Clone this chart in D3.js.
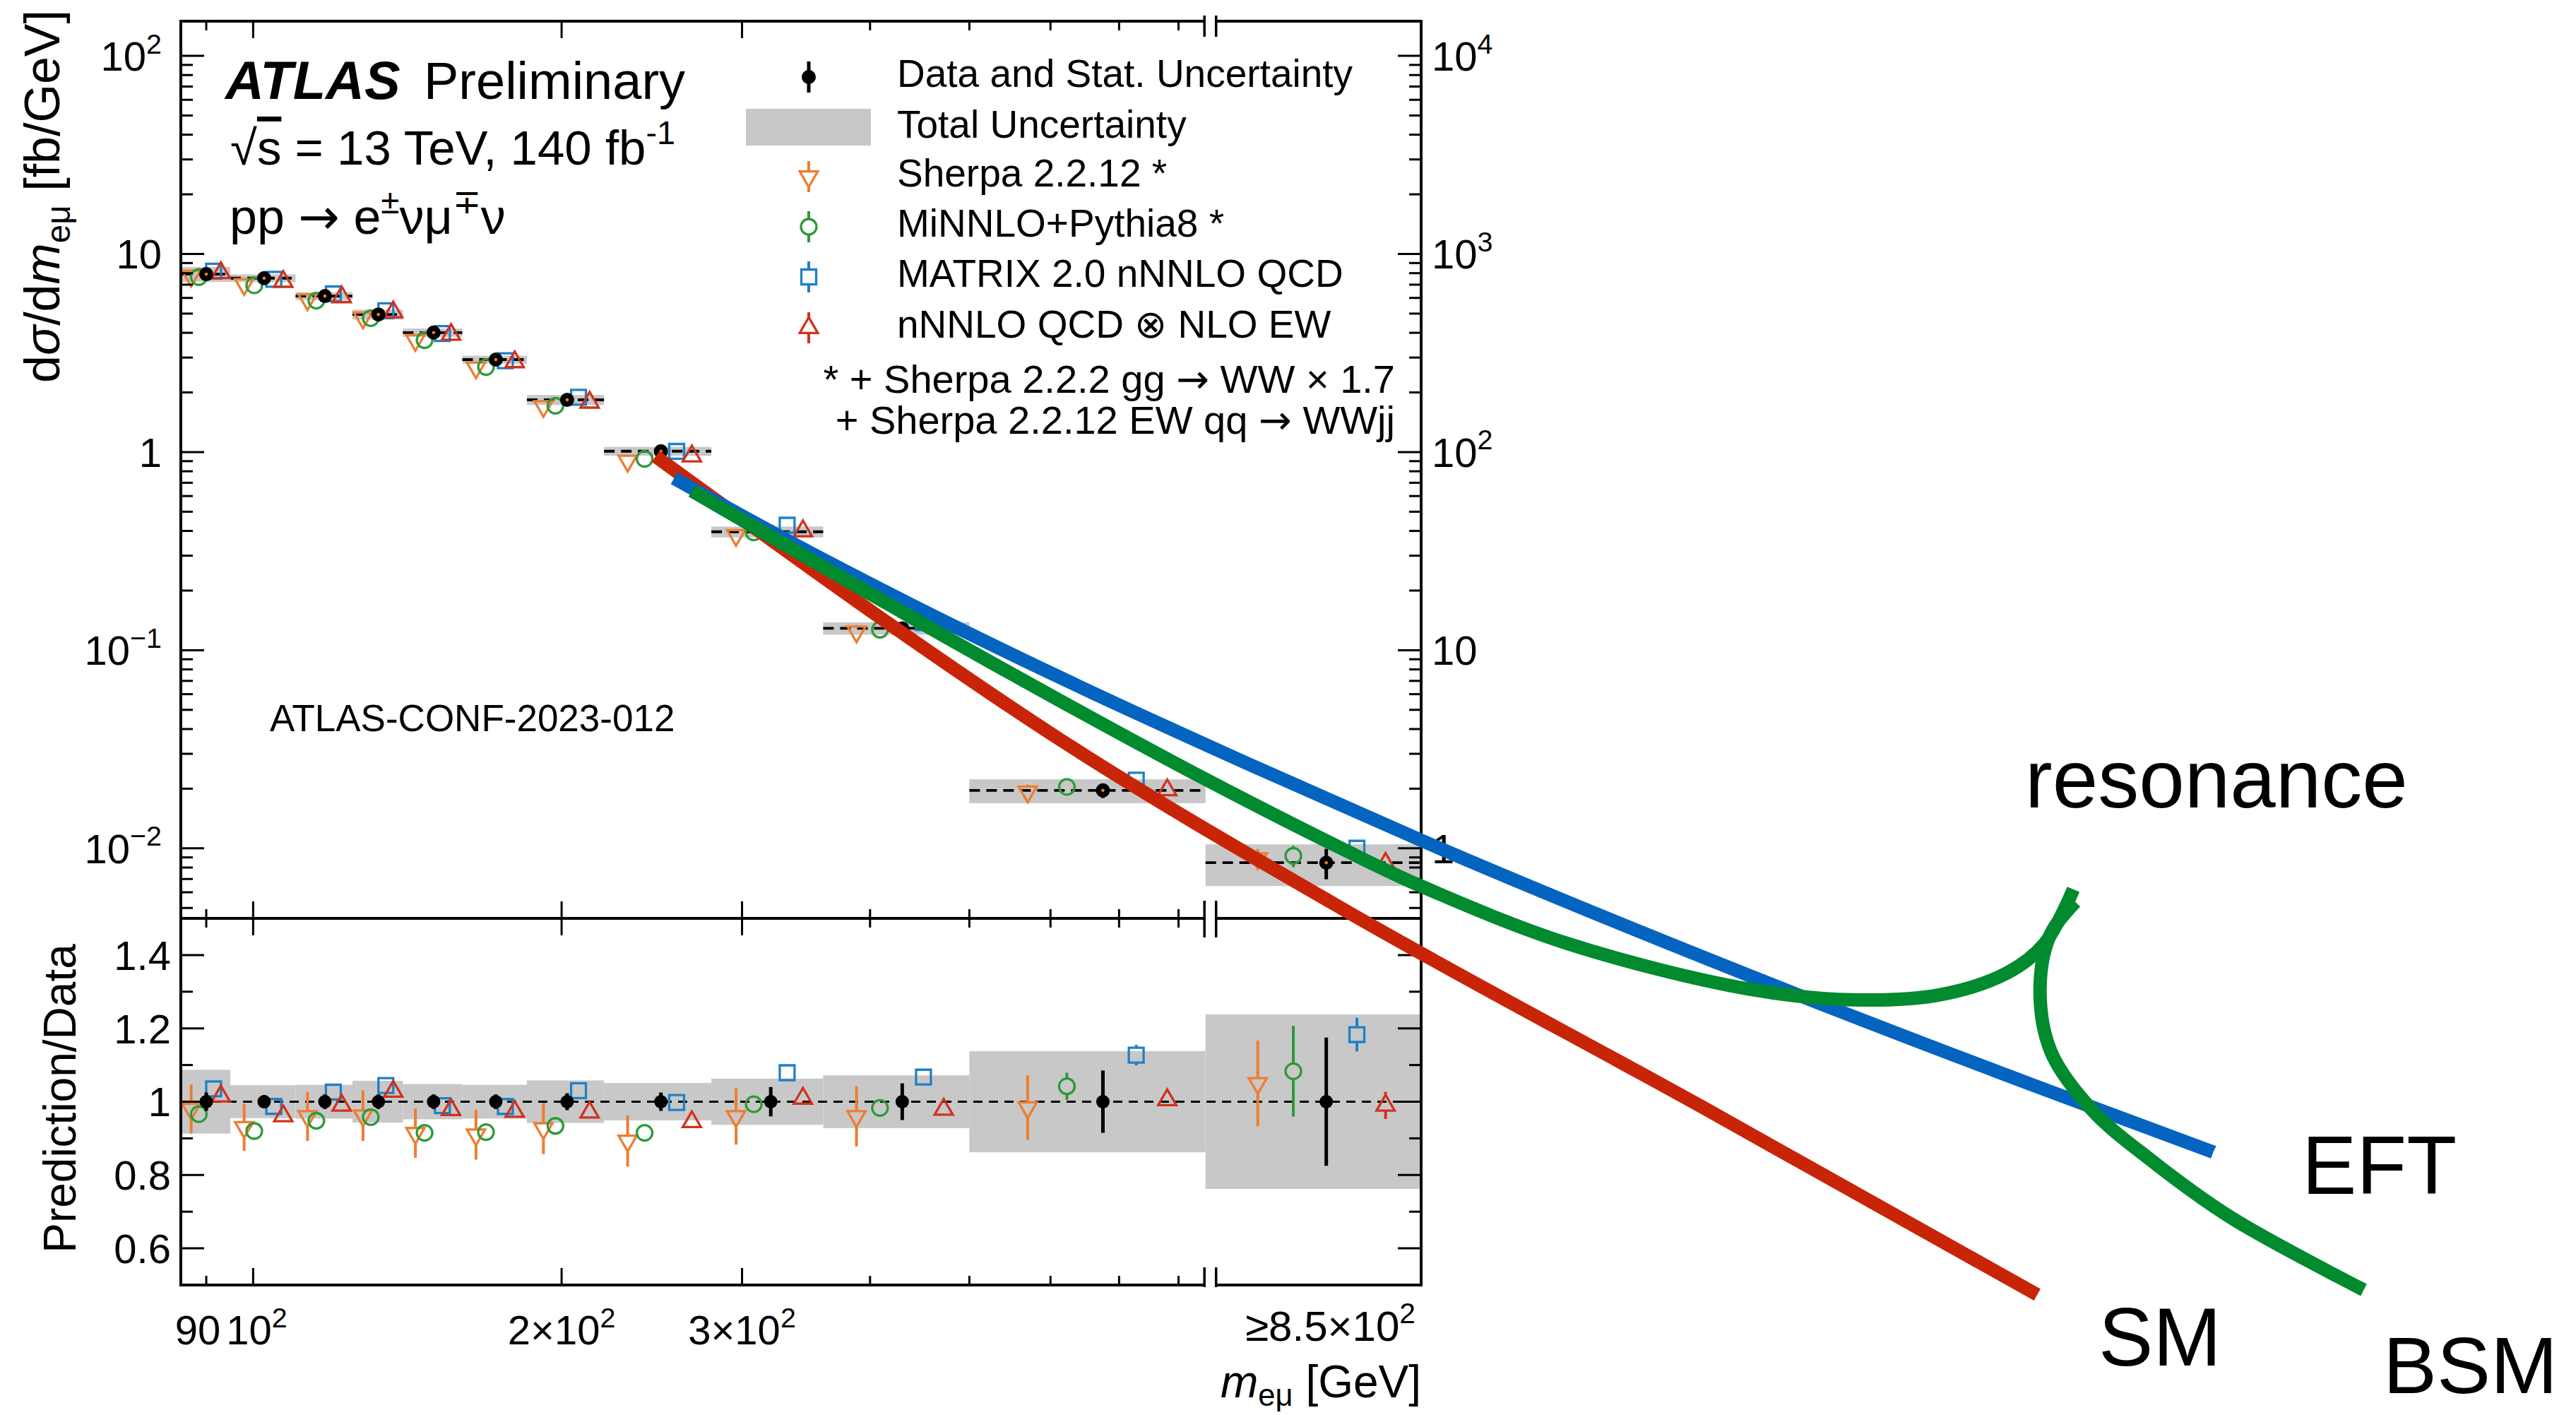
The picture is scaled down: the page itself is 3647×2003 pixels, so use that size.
<!DOCTYPE html>
<html><head><meta charset="utf-8">
<script src="https://cdn.jsdelivr.net/npm/d3@7"></script>
<style>
body{margin:0;background:#fff}
svg{display:block;background:#fff}
text{font-family:"Liberation Sans",Arial,Helvetica,sans-serif;fill:#000}
</style>
</head><body>
<svg id="c" width="3647" height="2003"></svg>
<script>
// ---------------- DATA ----------------
const binEdges   = [85,95,110,125,140,160,185,220,280,360,500,850,1380];
const dataVal    = [7.91,7.55,6.13,4.95,4.01,2.93,1.835,1.01,0.396,0.129,0.0196,0.00846];
const dataStat   = [0.025,0.018,0.02,0.02,0.02,0.02,0.023,0.025,0.04,0.05,0.085,0.175];
const totalUnc   = [0.087,0.045,0.046,0.057,0.048,0.046,0.058,0.051,0.063,0.072,0.138,0.238];
const sherpaRatio= [0.98,0.93,0.96,0.962,0.914,0.91,0.927,0.893,0.96,0.96,0.984,1.05];
const sherpaErr  = [0.067,0.064,0.067,0.069,0.067,0.068,0.07,0.07,0.077,0.082,0.088,0.117];
const minnloRatio= [0.966,0.92,0.948,0.958,0.915,0.917,0.934,0.915,0.993,0.983,1.042,1.083];
const minnloErr  = [0.01,0.008,0.008,0.008,0.008,0.008,0.008,0.008,0.01,0.012,0.037,0.124];
const matrixRatio= [1.035,0.987,1.026,1.044,0.989,0.987,1.03,0.998,1.079,1.067,1.127,1.183];
const matrixErr  = [0.008,0.006,0.006,0.006,0.006,0.006,0.006,0.006,0.012,0.014,0.028,0.046];
const ewRatio    = [1.015,0.961,0.99,1.028,0.978,0.973,0.971,0.945,1.009,0.979,1.005,0.99];
const ewErr      = [0.005,0.004,0.004,0.004,0.004,0.004,0.004,0.004,0.006,0.008,0.015,0.037];

const yMajorTicks   = [0.01,0.1,1,10,100];
const yTickLabels   = [["10","−2"],["10","−1"],["1",""],["10",""],["10","2"]];
const yRightLabels  = [["1",""],["10",""],["10","2"],["10","3"],["10","4"]];
const xMajorTicks   = [100,200,300];
const xMinorTicks   = [90,400,500,600,700,800];
const xTickValues   = [90,100,200,300];
const xTickLabels   = [["90",""],["10","2"],["2×10","2"],["3×10","2"]];
const overflowLabel = ["≥8.5×10","2"];
const breakAt       = 850;
const ratioMajor    = [0.6,0.8,1.0,1.2,1.4];
const ratioMajorLab = ["0.6","0.8","1","1.2","1.4"];
const ratioMinor    = [0.7,0.9,1.1,1.3];

// overlaid sketch curves: [m (GeV), dsigma/dm (fb/GeV)]
const smCurve  = [[247,0.952],[309,0.412],[409,0.1464],[613,0.0354],[1157,0.00494],[2600,4.92e-4],[5510,5.58e-5]];
const eftCurve = [[257.5,0.738],[331,0.3613],[440,0.1684],[613,0.0729],[944,0.02613],[1382,0.01094],[3186,1.859e-3],[5661,5.94e-4],[8183,2.93e-4]];
const bsmCurve = [[268,0.637],[355.5,0.2734],[472,0.1183],[613,0.0556],[842,0.0229],[1157,0.00992],[1382,0.00642],[1920,0.0033],[2878,0.00195],[3634,0.00172],[4420,0.00182],[5150,0.00235],[5600,0.0033],[5976,0.00621]];
const bsmBranch= [[6004,0.00536],[5679,0.0037],[5545,0.00198],[5679,0.000948],[6227,0.00048],[7093,0.00027],[8514,0.000137],[11476,5.9e-5]];

const legendNames = ["Data and Stat. Uncertainty","Total Uncertainty","Sherpa 2.2.12 *","MiNNLO+Pythia8 *","MATRIX 2.0 nNNLO QCD","nNNLO QCD ⊗ NLO EW"];

// ---------------- STYLE / LAYOUT ----------------
const ORANGE="#ee7d31", GREEN="#2e9a3a", BLUE="#1f80c8", RED="#d0321d", GRAY="#c8c8c8";
const C_RED="#c82508", C_BLUE="#0564c0", C_GREEN="#018a2e";
const L=256, R=2012, T=30, M=1300, B=1819;
const FS_TICK=58, FS_LEG=55;
const ARROWFONT="DejaVu Sans";
const xLabelNudge = [-12,5,0,0];

const series = [
  {ratio:sherpaRatio, err:sherpaErr, color:ORANGE, shape:"down",   f:0.2},
  {ratio:minnloRatio, err:minnloErr, color:GREEN,  shape:"circle", f:0.35},
  {ratio:matrixRatio, err:matrixErr, color:BLUE,   shape:"square", f:0.65},
  {ratio:ewRatio,     err:ewErr,     color:RED,    shape:"up",     f:0.8}
];
const DATA_F = 0.5;

const svg = d3.select("#c");
const x  = d3.scaleLog().domain([binEdges[0], binEdges[binEdges.length-1]]).range([L,R]);
const y  = d3.scaleLog().domain([0.00443,149.6]).range([M,T]);
const yr = d3.scaleLinear().domain([0.5,1.5]).range([B,M]);

const nb = dataVal.length;
const lo = i=>binEdges[i], hi = i=>binEdges[i+1];
const xAt = (i,f)=> x(lo(i) + f*(hi(i)-lo(i)));

const symGen = {
  down:   d3.symbol().type(d3.symbolTriangle).size(285),
  up:     d3.symbol().type(d3.symbolTriangle).size(285),
  circle: d3.symbol().type(d3.symbolCircle).size(380),
  square: d3.symbol().type(d3.symbolSquare).size(440)
};
const gaps = {down:[8,15], up:[15,8], circle:[11,11], square:[10.5,10.5]};

function drawMarker(g, shape, cx, cy, color){
  g.append("path").attr("d", symGen[shape]())
    .attr("transform", `translate(${cx},${cy})` + (shape==="down"?" rotate(180)":""))
    .attr("fill","none").attr("stroke",color).attr("stroke-width",3.3);
}
function drawErr(g, shape, cx, cy, yTop, yBot, color){
  const [gt,gb] = gaps[shape];
  if (yTop < cy-gt) g.append("line").attr("x1",cx).attr("x2",cx).attr("y1",yTop).attr("y2",cy-gt).attr("stroke",color).attr("stroke-width",4);
  if (yBot > cy+gb) g.append("line").attr("x1",cx).attr("x2",cx).attr("y1",cy+gb).attr("y2",yBot).attr("stroke",color).attr("stroke-width",4);
}
function rich(parent, xp, yp, fs, parts, anchor){
  const t = parent.append("text").attr("x",xp).attr("y",yp).attr("font-size",fs).attr("text-anchor",anchor||"start");
  let shift=0;
  parts.forEach(p=>{
    const s = (typeof p==="string") ? {t:p} : p;
    if (s.t==="") return;
    const target = s.sup ? -0.42*fs : (s.sub ? (s.subShift||0.22)*fs : 0);
    const ts = t.append("tspan").text(s.t).attr("dy", target-shift);
    shift = target;
    if (s.sup||s.sub) ts.attr("font-size", fs*0.68);
    if (s.it) ts.attr("font-style","italic");
    if (s.bold) ts.attr("font-weight","bold");
    if (s.over) ts.style("text-decoration","overline");
    if (s.font) ts.attr("font-family", s.font);
  });
  return t;
}

// ---------------- UPPER PANEL ----------------
const gU = svg.append("g");
for (let i=0;i<nb;i++){
  gU.append("rect").attr("x",x(lo(i))).attr("width",x(hi(i))-x(lo(i)))
    .attr("y",y(dataVal[i]*(1+totalUnc[i]))).attr("height",y(dataVal[i]*(1-totalUnc[i]))-y(dataVal[i]*(1+totalUnc[i])))
    .attr("fill",GRAY);
}
for (let i=0;i<nb;i++){
  gU.append("line").attr("x1",x(lo(i))).attr("x2",x(hi(i))).attr("y1",y(dataVal[i])).attr("y2",y(dataVal[i]))
    .attr("stroke","#000").attr("stroke-width",3.8).attr("stroke-dasharray","15,9");
}
series.forEach(s=>{
  for (let i=0;i<nb;i++){
    const v = dataVal[i]*s.ratio[i], cx = xAt(i,s.f), cy=y(v);
    drawErr(gU, s.shape, cx, cy, y(v*(1+s.err[i])), y(v*(1-s.err[i])), s.color);
    drawMarker(gU, s.shape, cx, cy, s.color);
  }
});
for (let i=0;i<nb;i++){
  const cx=xAt(i,DATA_F), v=dataVal[i];
  gU.append("line").attr("x1",cx).attr("x2",cx).attr("y1",y(v*(1+dataStat[i]))).attr("y2",y(v*(1-dataStat[i])))
    .attr("stroke","#000").attr("stroke-width",5);
  gU.append("circle").attr("cx",cx).attr("cy",y(v)).attr("r",10).attr("fill","#000");
  gU.append("circle").attr("cx",cx).attr("cy",y(v)).attr("r",2.3).attr("fill",ORANGE);
}

// ---------------- LOWER PANEL ----------------
const gL = svg.append("g");
for (let i=0;i<nb;i++){
  gL.append("rect").attr("x",x(lo(i))).attr("width",x(hi(i))-x(lo(i)))
    .attr("y",yr(1+totalUnc[i])).attr("height",yr(1-totalUnc[i])-yr(1+totalUnc[i])).attr("fill",GRAY);
}
gL.append("line").attr("x1",L).attr("x2",R).attr("y1",yr(1)).attr("y2",yr(1))
  .attr("stroke","#000").attr("stroke-width",3.2).attr("stroke-dasharray","13,9");
series.forEach(s=>{
  for (let i=0;i<nb;i++){
    const cx=xAt(i,s.f), cy=yr(s.ratio[i]);
    drawErr(gL, s.shape, cx, cy, yr(s.ratio[i]+s.err[i]), yr(s.ratio[i]-s.err[i]), s.color);
    drawMarker(gL, s.shape, cx, cy, s.color);
  }
});
for (let i=0;i<nb;i++){
  const cx=xAt(i,DATA_F);
  gL.append("line").attr("x1",cx).attr("x2",cx).attr("y1",yr(1+dataStat[i])).attr("y2",yr(1-dataStat[i]))
    .attr("stroke","#000").attr("stroke-width",5);
  gL.append("circle").attr("cx",cx).attr("cy",yr(1)).attr("r",9.5).attr("fill","#000");
}

// ---------------- FRAMES & TICKS ----------------
const gF = svg.append("g").attr("stroke","#000").attr("fill","none");
const xb1 = x(breakAt)-1.5, xb2 = x(breakAt)+15;
function hl(yv){ gF.append("line").attr("x1",L).attr("x2",xb1).attr("y1",yv).attr("y2",yv).attr("stroke-width",4);
                 gF.append("line").attr("x1",xb2).attr("x2",R).attr("y1",yv).attr("y2",yv).attr("stroke-width",4); }
hl(T); hl(M); hl(B);
[L,R].forEach(xv=>gF.append("line").attr("x1",xv).attr("x2",xv).attr("y1",T-2).attr("y2",B+2).attr("stroke-width",4));
function bars(y1v,y2v){ [xb1,xb2].forEach(xv=>gF.append("line").attr("x1",xv).attr("x2",xv).attr("y1",y1v).attr("y2",y2v).attr("stroke-width",3.5)); }
bars(T-8,T+22); bars(M-25,M+27); bars(B-25,B+3);

function tk(x1,y1,x2,y2){ gF.append("line").attr("x1",x1).attr("y1",y1).attr("x2",x2).attr("y2",y2).attr("stroke-width",3); }
const xTickSets = [[xMajorTicks,24],[xMinorTicks,13]];
xTickSets.forEach(([arr,len])=>arr.forEach(v=>{
  const xv=x(v);
  tk(xv,T,xv,T+len); tk(xv,M,xv,M-len); tk(xv,M,xv,M+len); tk(xv,B,xv,B-len);
}));
const yDom = y.domain();
for (let e=-3;e<=2;e++){
  for (let k=1;k<=9;k++){
    const v=k*Math.pow(10,e);
    if (v<yDom[0]||v>yDom[1]) continue;
    const len = (k===1)?33:17, yv=y(v);
    tk(L,yv,L+len,yv); tk(R,yv,R-len,yv);
  }
}
ratioMajor.forEach(v=>{tk(L,yr(v),L+33,yr(v)); tk(R,yr(v),R-33,yr(v));});
ratioMinor.forEach(v=>{tk(L,yr(v),L+17,yr(v)); tk(R,yr(v),R-17,yr(v));});

// ---------------- TICK LABELS ----------------
const gT = svg.append("g");
yMajorTicks.forEach((v,i)=>{
  const lab=yTickLabels[i];
  rich(gT, 229, y(v)+0.36*FS_TICK, FS_TICK, [lab[0],{t:lab[1],sup:true}], "end");
});
yMajorTicks.forEach((v,i)=>{
  const lab=yRightLabels[i];
  rich(gT, 2027, y(v)+0.36*FS_TICK, FS_TICK, [lab[0],{t:lab[1],sup:true}], "start")
    .attr("font-family","DejaVu Sans");
});
ratioMajor.forEach((v,i)=>{
  rich(gT, 242, yr(v)+0.36*FS_TICK, FS_TICK, [ratioMajorLab[i]], "end");
});
xTickValues.forEach((v,i)=>{
  const lab=xTickLabels[i];
  rich(gT, x(v)+xLabelNudge[i], 1903, FS_TICK, [lab[0],{t:lab[1],sup:true}], "middle");
});
rich(gT, 2004, 1898, FS_TICK+2, [overflowLabel[0],{t:overflowLabel[1],sup:true}], "end");

rich(gT, 2012, 1978, 64, [{t:"m",it:true},{t:"eμ",sub:true,subShift:0.18}," [GeV]"], "end");
const gy = gT.append("g").attr("transform","translate(84,14) rotate(-90)");
rich(gy, 0, 0, 70, ["d",{t:"σ",it:true},"/d",{t:"m",it:true},{t:"eμ",sub:true},"  [fb/GeV]"], "end");
const gy2 = gT.append("g").attr("transform","translate(107,1555) rotate(-90)");
rich(gy2, 0, 0, 64, ["Prediction/Data"], "middle");

// ---------------- TEXT BLOCK ----------------
const gX = svg.append("g");
rich(gX, 319, 140, 76, [{t:"ATLAS",bold:true,it:true}]);
rich(gX, 600, 140, 74, ["Preliminary"]);
rich(gX, 326, 233, 69, ["√",{t:"s",over:true}," = 13 TeV, 140 fb",{t:"-1",sup:true}]);
rich(gX, 325, 331, 70, ["pp ",{t:"→",font:ARROWFONT}," e",{t:"±",sup:true},"νμ",{t:"∓",sup:true},"ν"]);
rich(gX, 382, 1035, 53, ["ATLAS-CONF-2023-012"]);

// ---------------- LEGEND ----------------
const gLeg = svg.append("g");
const legBase = [123,195,264,335,406,478];
const legX = 1145, legTX = 1270;
legendNames.forEach((nm,i)=>rich(gLeg, legTX, legBase[i], FS_LEG, [nm]));
gLeg.append("line").attr("x1",legX).attr("x2",legX).attr("y1",legBase[0]-36).attr("y2",legBase[0]+8).attr("stroke","#000").attr("stroke-width",5);
gLeg.append("circle").attr("cx",legX).attr("cy",legBase[0]-14).attr("r",10).attr("fill","#000");
gLeg.append("rect").attr("x",1056).attr("y",legBase[1]-41).attr("width",177).attr("height",52).attr("fill",GRAY);
series.forEach((s,k)=>{
  const cy = legBase[k+2]-14;
  drawErr(gLeg, s.shape, legX, cy, cy-22, cy+22, s.color);
  drawMarker(gLeg, s.shape, legX, cy, s.color);
});
rich(gLeg, 1975, 556, FS_LEG+1, ["* + Sherpa 2.2.2 gg ",{t:"→",font:ARROWFONT}," WW × 1.7"], "end");
rich(gLeg, 1975, 614, FS_LEG+1, ["+ Sherpa 2.2.12 EW qq ",{t:"→",font:ARROWFONT}," WWjj"], "end");

// ---------------- OVERLAID SKETCH CURVES ----------------
const gC = svg.append("g").attr("fill","none").attr("stroke-width",19).attr("stroke-linecap","butt");
const lineMono = d3.line().x(d=>x(d[0])).y(d=>y(d[1])).curve(d3.curveMonotoneX);
const lineFree = d3.line().x(d=>x(d[0])).y(d=>y(d[1])).curve(d3.curveCatmullRom.alpha(0.5));
gC.append("path").attr("d",lineMono(smCurve)).attr("stroke",C_RED);
gC.append("path").attr("d",lineMono(eftCurve)).attr("stroke",C_BLUE);
gC.append("path").attr("d",lineFree(bsmCurve)).attr("stroke",C_GREEN);
gC.append("path").attr("d",lineFree(bsmBranch)).attr("stroke",C_GREEN);

const gLab = svg.append("g");
rich(gLab, 2867, 1143, 116, ["resonance"]);
rich(gLab, 3259, 1690, 116, ["EFT"]);
rich(gLab, 2971, 1933, 116, ["SM"]);
rich(gLab, 3374, 1972, 114, ["BSM"]);
</script>
</body></html>
